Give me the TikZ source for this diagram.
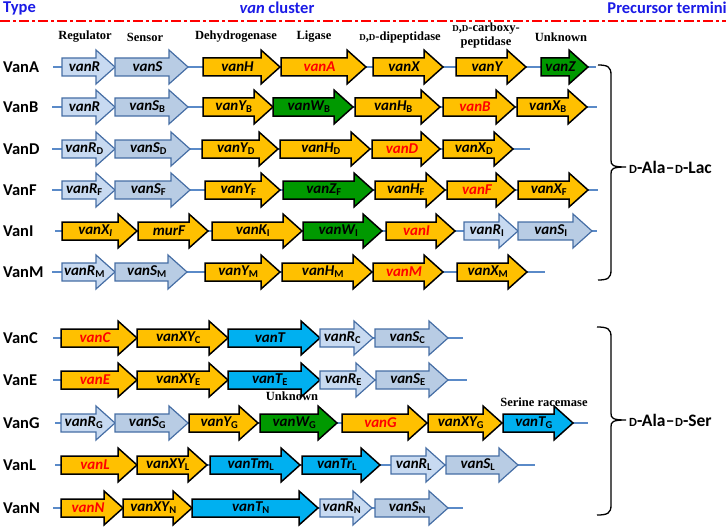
\documentclass[tikz,border=0pt]{standalone}
\usepackage{fontspec}
\setmainfont{Carlito}
\newfontfamily\catfont{Liberation Serif}
\definecolor{lightR}{RGB}{200,218,241}
\definecolor{lightS}{RGB}{184,204,228}
\definecolor{lbord}{RGB}{70,110,165}
\definecolor{ylw}{RGB}{255,192,0}
\definecolor{grn}{RGB}{0,153,0}
\definecolor{cyn}{RGB}{0,176,240}
\definecolor{bbone}{RGB}{90,138,200}
\definecolor{hblue}{RGB}{26,26,230}
\definecolor{gred}{RGB}{255,0,0}
\newcommand\gs[1]{\textsubscript{\upshape #1}}
\newcommand\smD{{\fontsize{12.5}{13}\selectfont D}}
\newcommand\csmD{{\fontsize{9}{9}\selectfont D}}
\tikzset{
  bb/.style={draw=bbone, line width=1.1pt},
  genR/.style={fill=lightR, draw=lbord, line width=1.2pt, line join=miter},
  genS/.style={fill=lightS, draw=lbord, line width=1.2pt, line join=miter},
  genY/.style={fill=ylw, draw=black, line width=1.5pt, line join=miter},
  genG/.style={fill=grn, draw=black, line width=1.5pt, line join=miter},
  genC/.style={fill=cyn, draw=black, line width=1.5pt, line join=miter},
  gtext/.style={inner sep=0pt, font=\fontsize{15}{15}\selectfont\bfseries\itshape},
  typel/.style={anchor=west, inner sep=0pt, font=\fontsize{16.5}{16.5}\selectfont\bfseries},
  catl/.style={inner sep=0pt, font=\catfont\bfseries\fontsize{12.5}{14}\selectfont, align=center},
  headl/.style={inner sep=0pt, text=hblue, font=\fontsize{16.5}{17}\selectfont\bfseries},
  brace/.style={draw=black, line width=1.3pt},
  bracel/.style={anchor=west, inner sep=0pt, font=\fontsize{17.5}{18}\selectfont\bfseries}
}
% name, x1, x2, y, style, label
\newcommand\gene[6]{%
  \draw[#5] ({#2},{#4-9}) -- ({#3-19},{#4-9}) -- ({#3-19},{#4-17}) -- ({#3},{#4}) -- ({#3-19},{#4+17}) -- ({#3-19},{#4+9}) -- ({#2},{#4+9}) -- cycle;
  \node[gtext] (#1) at ({(#2+#3)/2-4},{#4}) {#6};}
\newcommand\row[4]{% name, x1, x2, y
  \coordinate (#1s) at ({#2},{#4});
  \coordinate (#1e) at ({#3},{#4});
  \draw[bb] (#1s) -- (#1e);}
\begin{document}
\begin{tikzpicture}[x=1pt,y=-1pt]
\useasboundingbox (0,0) rectangle (726,527);
% header
\node[headl, anchor=west] (hType) at (3,8) {Type};
\node[headl] (hVan) at (277,8) {\itshape van\upshape\ cluster};
\node[headl, anchor=east] (hPre) at (727,8) {Precursor termini};
\coordinate (dl) at (0,21);
\coordinate (dr) at (726,21);
\draw[red, line width=1.3pt, dash pattern=on 10pt off 3pt on 3pt off 3pt] (dl) -- (dr);
% categories
\node[catl] (cReg) at (85,37) {Regulator};
\node[catl] (cSen) at (145,37) {Sensor};
\node[catl] (cDeh) at (236,37) {Dehydrogenase};
\node[catl] (cLig) at (314,37) {Ligase};
\node[catl] (cDip) at (400,37) {\csmD,\csmD-dipeptidase};
\node[catl] (cCar) at (486,35.5) {\csmD,\csmD-carboxy-\\peptidase};
\node[catl] (cUnk) at (561,37) {Unknown};
% VanA
\node[typel] (tA) at (3,67) {VanA};
\row{A}{53}{596}{67}
\gene{aR}{62}{115}{67}{genR}{vanR}
\gene{aS}{115}{188}{67}{genS}{vanS}
\gene{aH}{203}{280}{67}{genY}{vanH}
\gene{aA}{281}{366}{67}{genY}{\textcolor{gred}{vanA}}
\gene{aX}{373}{443}{67}{genY}{vanX}
\gene{aY}{456}{526}{67}{genY}{vanY}
\gene{aZ}{541}{588}{67}{genG}{vanZ}
% VanB
\node[typel] (tB) at (3,107) {VanB};
\row{B}{52}{597}{107}
\gene{bR}{62}{115}{107}{genR}{vanR}
\gene{bS}{115}{188}{107}{genS}{vanS\gs{B}}
\gene{bY}{203}{273}{107}{genY}{vanY\gs{B}}
\gene{bW}{273}{353}{107}{genG}{vanW\gs{B}}
\gene{bH}{355}{440}{107}{genY}{vanH\gs{B}}
\gene{bB}{443}{515}{107}{genY}{\textcolor{gred}{vanB}}
\gene{bX}{517}{587}{107}{genY}{vanX\gs{B}}
% VanD
\node[typel] (tD) at (3,149) {VanD};
\row{D}{52}{530}{149}
\gene{dR}{62}{115}{149}{genR}{vanR\gs{D}}
\gene{dS}{115}{190}{149}{genS}{vanS\gs{D}}
\gene{dY}{202}{278}{149}{genY}{vanY\gs{D}}
\gene{dH}{280}{370}{149}{genY}{vanH\gs{D}}
\gene{dD}{372}{440}{149}{genY}{\textcolor{gred}{vanD}}
\gene{dX}{443}{513}{149}{genY}{vanX\gs{D}}
% VanF
\node[typel] (tF) at (3,190) {VanF};
\row{F}{52}{598}{190}
\gene{fR}{62}{115}{190}{genR}{vanR\gs{F}}
\gene{fS}{115}{190}{190}{genS}{vanS\gs{F}}
\gene{fY}{205}{280}{190}{genY}{vanY\gs{F}}
\gene{fZ}{283}{373}{190}{genG}{vanZ\gs{F}}
\gene{fH}{375}{445}{190}{genY}{vanH\gs{F}}
\gene{fF}{447}{515}{190}{genY}{\textcolor{gred}{vanF}}
\gene{fX}{518}{588}{190}{genY}{vanX\gs{F}}
% VanI
\node[typel] (tI) at (3,231) {VanI};
\row{I}{55}{597}{231}
\gene{iX}{62}{137}{231}{genY}{vanX\textsubscript{\itshape I}}
\gene{iM}{138}{208}{231}{genY}{murF}
\gene{iK}{212}{302}{231}{genY}{vanK\gs{I}}
\gene{iW}{303}{382}{231}{genG}{vanW\gs{I}}
\gene{iI}{386}{455}{231}{genY}{\textcolor{gred}{vanI}}
\gene{iR}{464}{518}{231}{genR}{vanR\gs{I}}
\gene{iS}{518}{592}{231}{genS}{vanS\gs{I}}
% VanM
\node[typel] (tM) at (3,272) {VanM};
\row{M}{52}{545}{272}
\gene{mR}{62}{115}{272}{genR}{vanR\gs{M}}
\gene{mS}{115}{187}{272}{genS}{vanS\gs{M}}
\gene{mY}{205}{280}{272}{genY}{vanY\gs{M}}
\gene{mH}{282}{372}{272}{genY}{vanH\gs{M}}
\gene{mM}{373}{443}{272}{genY}{\textcolor{gred}{vanM}}
\gene{mX}{457}{527}{272}{genY}{vanX\gs{M}}
% brace 1
\coordinate (b1t) at (598,65);
\coordinate (b1m) at (626,167);
\coordinate (b1b) at (598,280);
\draw[brace] (b1t) .. controls (608,65) and (611,67) .. (611,75) -- (611,160) .. controls (611,165) and (612,167) .. (b1m) .. controls (612,167) and (611,169) .. (611,174) -- (611,270) .. controls (611,278) and (608,280) .. (b1b);
\node[bracel] (lLac) at (629,167) {\smD-Ala\kern0.5pt–\kern0.5pt\smD-Lac};
% VanC
\node[typel] (tC) at (3,338) {VanC};
\row{C}{53}{463}{338}
\gene{cC}{61}{137}{338}{genY}{\textcolor{gred}{vanC}}
\gene{cXY}{137}{228}{338}{genY}{vanXY\gs{C}}
\gene{cT}{228}{320}{338}{genC}{vanT}
\gene{cR}{320}{373}{338}{genR}{vanR\gs{C}}
\gene{cS}{375}{448}{338}{genS}{vanS\gs{C}}
% VanE
\node[typel] (tE) at (3,380) {VanE};
\row{E}{53}{467}{380}
\gene{eE}{61}{137}{380}{genY}{\textcolor{gred}{vanE}}
\gene{eXY}{137}{228}{380}{genY}{vanXY\gs{E}}
\gene{eT}{228}{320}{380}{genC}{vanT\gs{E}}
\gene{eR}{320}{375}{380}{genR}{vanR\gs{E}}
\gene{eS}{376}{448}{380}{genS}{vanS\gs{E}}
% VanG
\node[catl] (cUnk2) at (292,396) {Unknown};
\node[catl] (cSer) at (544,402) {Serine racemase};
\node[typel] (tG) at (3,423) {VanG};
\row{G}{55}{588}{423}
\gene{gR}{61}{115}{423}{genR}{vanR\gs{G}}
\gene{gS}{115}{188}{423}{genS}{vanS\gs{G}}
\gene{gY}{189}{258}{423}{genY}{vanY\gs{G}}
\gene{gW}{260}{337}{423}{genG}{vanW\gs{G}}
\gene{gG}{342}{427}{423}{genY}{\textcolor{gred}{vanG}}
\gene{gXY}{428}{502}{423}{genY}{vanXY\gs{G}}
\gene{gT}{503}{573}{423}{genC}{vanT\gs{G}}
% VanL
\node[typel] (tL) at (3,465) {VanL};
\row{L}{55}{535}{465}
\gene{lL}{61}{137}{465}{genY}{\textcolor{gred}{vanL}}
\gene{lXY}{137}{207}{465}{genY}{vanXY\gs{L}}
\gene{lTm}{210}{300}{465}{genC}{vanTm\gs{L}}
\gene{lTr}{302}{380}{465}{genC}{vanTr\gs{L}}
\gene{lR}{391}{445}{465}{genR}{vanR\gs{L}}
\gene{lS}{446}{518}{465}{genS}{vanS\gs{L}}
% VanN
\node[typel] (tN) at (3,508) {VanN};
\row{N}{53}{463}{508}
\gene{nN}{61}{123}{508}{genY}{\textcolor{gred}{vanN}}
\gene{nXY}{123}{192}{508}{genY}{vanXY\gs{N}}
\gene{nT}{192}{318}{508}{genC}{vanT\gs{N}}
\gene{nR}{320}{372}{508}{genR}{vanR\gs{N}}
\gene{nS}{375}{448}{508}{genS}{vanS\gs{N}}
% brace 2
\coordinate (b2t) at (597,327);
\coordinate (b2m) at (626,420);
\coordinate (b2b) at (597,515);
\draw[brace] (b2t) .. controls (608,327) and (611,329) .. (611,337) -- (611,413) .. controls (611,418) and (612,420) .. (b2m) .. controls (612,420) and (611,422) .. (611,427) -- (611,505) .. controls (611,513) and (608,515) .. (b2b);
\node[bracel] (lSer) at (629,420) {\smD-Ala\kern0.5pt–\kern0.5pt\smD-Ser};
\end{tikzpicture}
\end{document}
